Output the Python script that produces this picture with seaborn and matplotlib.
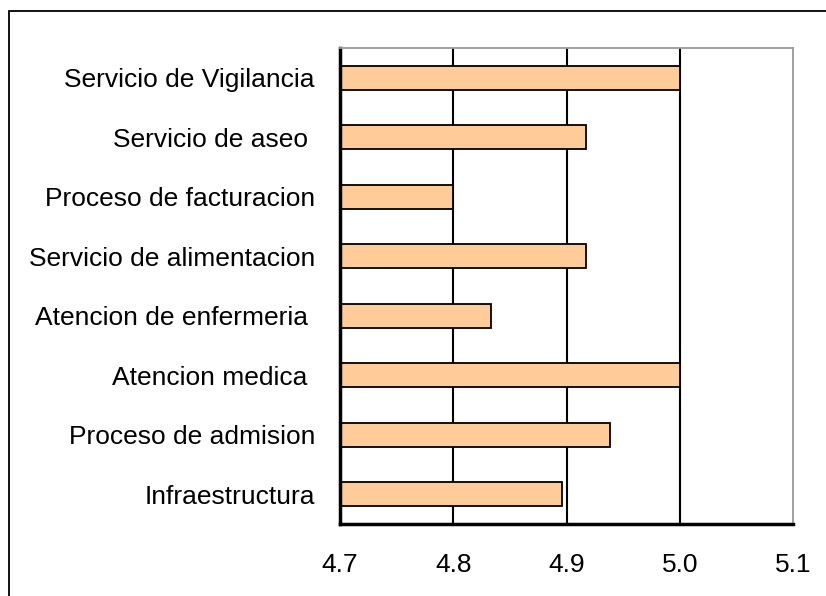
import numpy as np
import pandas as pd
import matplotlib
matplotlib.use('Agg')
import matplotlib.pyplot as plt
import seaborn as sns
from matplotlib.patches import Rectangle

# Datos del grafico (de arriba hacia abajo)
categorias = [
    "Servicio de Vigilancia",
    "Servicio de aseo ",
    "Proceso de facturacion",
    "Servicio de alimentacion",
    "Atencion de enfermeria ",
    "Atencion medica ",
    "Proceso de admision",
    "Infraestructura",
]
valores = [5.0, 4.917, 4.8, 4.917, 4.833, 5.0, 4.938, 4.896]
x_ticks = [4.7, 4.8, 4.9, 5.0, 5.1]
x_labels = ["4.7", "4.8", "4.9", "5.0", "5.1"]

sns.set_style('white')
plt.rcParams['font.family'] = ['Liberation Sans', 'DejaVu Sans']
plt.rcParams['text.color'] = 'black'
plt.rcParams['xtick.color'] = 'black'
plt.rcParams['ytick.color'] = 'black'

df = pd.DataFrame({'categoria': categorias, 'valor': valores})

fig = plt.figure(figsize=(8.26, 5.96), dpi=100)
ax = fig.add_axes([340 / 826, 1 - 524 / 596, 453 / 826, 476 / 596])

sns.barplot(data=df, x='valor', y='categoria', orient='h', color='#FFCC99',
            saturation=1, edgecolor='black', linewidth=1.3, width=0.4, ax=ax)

ax.set_xlim(4.7, 5.1)
ax.set_ylim(len(categorias) - 0.5, -0.5)
ax.set_xticks(x_ticks)
ax.set_xticklabels(x_labels, fontsize=19)
ax.set_xlabel('')
ax.set_ylabel('')
ax.tick_params(axis='y', which='major', length=0, pad=18, labelsize=19, labelcolor='black')
ax.set_yticks(np.arange(-0.5, len(categorias), 1), minor=True)
ax.tick_params(axis='y', which='minor', length=7, width=1.5, color='black', direction='out')
ax.tick_params(axis='x', which='major', length=5, width=1.5, color='black', direction='out',
               pad=16, labelcolor='black')
ax.tick_params(axis='x', which='minor', length=0)

# lineas de division verticales
for xv in x_ticks[1:-1]:
    ax.axvline(xv, color='black', lw=1.5, zorder=0)

for s in ['left', 'bottom']:
    ax.spines[s].set_color('black')
    ax.spines[s].set_linewidth(2.5)
    ax.spines[s].set_visible(True)
for s in ['top', 'right']:
    ax.spines[s].set_color('#999999')
    ax.spines[s].set_linewidth(1.3)
    ax.spines[s].set_visible(True)

# borde exterior del grafico
fig.patches.append(Rectangle((9 / 826, -0.2), 1.2, 0.2 + 1 - 11 / 596,
                             transform=fig.transFigure, fill=False,
                             edgecolor='black', lw=1.3))

fig.savefig('out.png', dpi=100)
